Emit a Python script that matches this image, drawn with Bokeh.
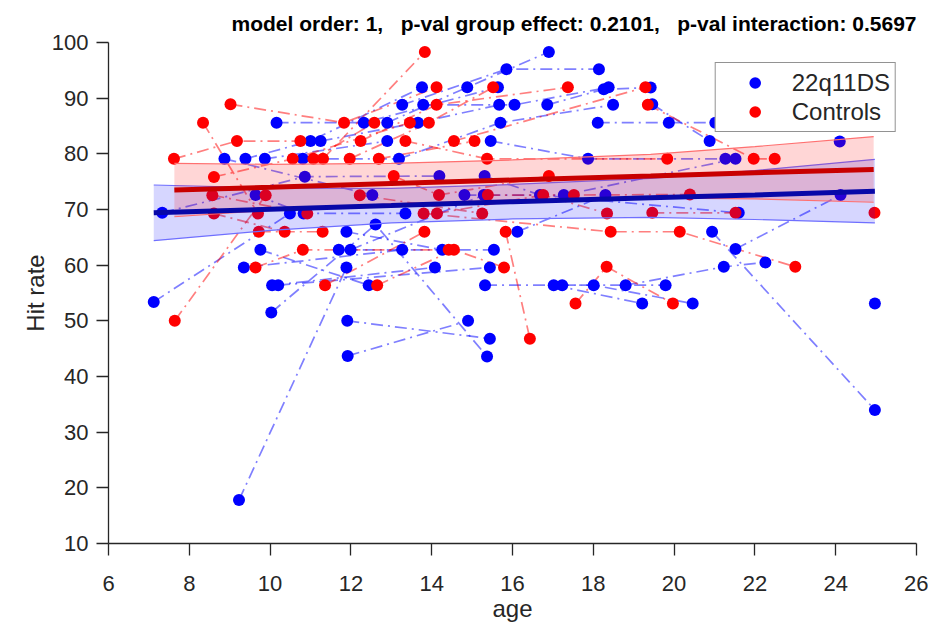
from collections import OrderedDict
from bokeh.plotting import figure
from bokeh.models import Legend, LegendItem, FixedTicker, Range1d
from bokeh.embed import file_html
from bokeh.resources import INLINE

# ---------------- data ----------------
TITLE = "model order: 1,\u00a0\u00a0\u00a0p-val group effect: 0.2101,\u00a0\u00a0\u00a0p-val interaction: 0.5697"
x_ticks = [6, 8, 10, 12, 14, 16, 18, 20, 22, 24, 26]
y_ticks = [10, 20, 30, 40, 50, 60, 70, 80, 90, 100]
group_names = ["22q11DS", "Controls"]

# 22q11DS: subject id, age, hit rate
q_subj = [1, 1,
          2, 2, 2,
          3, 3,
          4, 4, 4,
          5, 5,
          6, 6, 6,
          7, 7, 7,
          8, 8, 8,
          9, 9, 9,
          10, 10, 10,
          11, 11, 11,
          12, 12, 12, 12,
          13, 13, 13,
          14, 14,
          15, 15,
          16, 16,
          17, 17,
          18, 18,
          19, 19,
          20, 20,
          21, 21,
          22, 22,
          23, 23,
          24, 24, 24,
          25, 25, 25,
          26, 26, 26,
          27, 27,
          28, 28, 28,
          29, 29, 29,
          30, 30,
          31, 31, 31,
          32, 32,
          33, 33,
          34, 34, 34,
          35, 35,
          36, 36,
          37,
          38]
q_age = [7.12, 10.49,
         7.33, 10.86, 14.19,
         8.87, 12.53,
         9.39, 11.00, 13.76,
         9.87, 12.90,
         10.16, 12.32, 15.64,
         9.64, 10.83, 13.35,
         11.25, 13.66, 15.67,
         12.90, 14.88, 16.90,
         13.27, 15.85, 18.14,
         13.79, 16.05, 18.38,
         10.81, 13.19, 15.70, 18.49,
         10.03, 12.61, 15.37,
         11.89, 14.26,
         9.76, 12.44,
         11.70, 15.54,
         11.99, 15.29,
         9.35, 13.27,
         9.23, 11.89,
         10.05, 14.08,
         10.20, 15.44,
         11.91, 15.44,
         11.92, 14.90,
         15.46, 17.87, 21.27,
         15.31, 16.68, 21.60,
         14.81, 17.27, 21.52,
         16.12, 18.30,
         16.86, 18.26, 19.42,
         18.11, 19.87, 21.02,
         19.46, 20.88,
         15.32, 18.01, 20.46,
         17.02, 19.21,
         17.23, 19.79,
         18.80, 21.23, 22.26,
         20.94, 24.97,
         21.52, 24.12,
         24.10,
         24.97]
q_hit = [53.4, 69.3,
         69.4, 75.9, 76.0,
         79.1, 72.6,
         79.1, 82.3, 91.95,
         79.1, 82.3,
         85.6, 85.6, 91.95,
         72.6, 69.3, 69.3,
         82.3, 85.6, 88.8,
         85.6, 91.95, 98.3,
         88.8, 95.2, 95.2,
         88.8, 88.8, 91.95,
         79.1, 79.1, 85.6, 88.8,
         51.5, 67.3, 43.6,
         66.0, 62.75,
         62.75, 56.4,
         62.75, 62.75,
         62.75, 72.6,
         59.6, 62.75,
         17.8, 59.6,
         56.4, 59.6,
         56.4, 59.6,
         50.0, 46.8,
         43.7, 50.0,
         82.3, 79.1, 79.1,
         76.0, 72.6, 69.4,
         72.6, 72.6, 79.1,
         66.0, 72.6,
         88.8, 91.6, 91.9,
         85.6, 85.6, 85.6,
         88.9, 82.3,
         56.4, 56.4, 53.1,
         56.4, 53.1,
         56.4, 56.4,
         56.4, 59.7, 60.5,
         66.0, 34.0,
         62.9, 72.6,
         82.2,
         53.1]

# Controls: subject id, age, hit rate
c_subj = [1, 1, 1,
          2, 2,
          3, 3, 3,
          4, 4,
          5, 5, 5,
          6, 6,
          7, 7,
          8, 8,
          9, 9, 9,
          10, 10,
          11, 11,
          12, 12, 12,
          13, 13, 13,
          14, 14,
          15, 15, 15,
          16, 16,
          17, 17, 17,
          18, 18,
          19, 19, 19,
          20, 20, 20, 20,
          21, 21, 21,
          22, 22,
          23, 23, 23,
          24, 24,
          25, 25, 25,
          26, 26, 26,
          27, 27,
          28]
c_age = [9.02, 11.83, 14.12,
         8.34, 9.70,
         7.62, 9.18, 10.75,
         7.64, 9.89,
         8.61, 10.56, 13.46,
         8.57, 10.92,
         8.61, 10.36,
         9.72, 11.30,
         9.64, 10.81, 14.42,
         11.31, 13.83,
         11.07, 12.58,
         11.97, 13.93, 15.52,
         12.24, 14.12, 17.37,
         12.69, 15.06,
         13.06, 14.18, 16.90,
         12.22, 15.25,
         13.35, 15.37, 19.83,
         14.55, 19.29,
         15.39, 17.52, 20.39,
         13.80, 18.43, 20.14, 23.00,
         14.13, 16.76, 18.34,
         15.83, 16.43,
         12.65, 14.55, 15.79,
         11.36, 13.82,
         17.56, 18.33, 19.97,
         19.35, 21.97, 22.49,
         19.46, 21.52,
         24.96]
c_hit = [88.9, 85.6, 91.95,
         85.6, 69.26,
         79.1, 82.3, 82.3,
         50.0, 72.57,
         75.85, 79.1, 85.6,
         72.57, 69.26,
         69.26, 66.0,
         66.0, 66.0,
         59.6, 62.75, 62.75,
         79.1, 98.3,
         79.1, 85.6,
         79.1, 85.6, 91.95,
         82.3, 88.8, 91.95,
         79.1, 82.3,
         76.0, 72.6, 76.0,
         72.57, 69.3,
         82.3, 79.1, 79.1,
         82.3, 91.95,
         72.6, 72.6, 72.7,
         69.3, 66.0, 66.0, 59.7,
         69.3, 72.6, 69.3,
         66.0, 46.8,
         56.4, 62.75, 59.6,
         56.4, 66.0,
         53.1, 59.7, 53.1,
         88.8, 79.1, 79.1,
         69.4, 69.4,
         69.4]

# fitted model (mean line and confidence band) per group
fit_q_age = [7.12, 10.0, 13.0, 16.0, 19.42, 22.0, 24.97]
fit_q_mean = [69.4, 70.05, 70.7, 71.4, 72.1, 72.6, 73.3]
fit_q_lo = [64.4, 66.25, 67.6, 68.3, 68.6, 68.2, 67.6]
fit_q_hi = [74.4, 73.85, 73.8, 74.5, 75.6, 77.0, 79.0]

fit_c_age = [7.63, 10.0, 13.0, 16.0, 19.42, 22.0, 24.94]
fit_c_mean = [73.5, 74.0, 74.65, 75.3, 76.0, 76.6, 77.2]
fit_c_lo = [68.7, 69.9, 71.0, 71.7, 72.1, 71.9, 71.3]
fit_c_hi = [78.3, 78.1, 78.3, 78.9, 79.9, 81.3, 83.1]

# ---------------- styles ----------------
BLUE = "#0000ff"
RED = "#ff0000"
AX = "#262626"
FONT = "Liberation Sans"


def trajectories(subj, age, hit):
    groups = OrderedDict()
    for s, a, h in zip(subj, age, hit):
        groups.setdefault(s, []).append((a, h))
    xs, ys = [], []
    for pts in groups.values():
        if len(pts) < 2:
            continue
        pts = sorted(pts)
        xs.append([a for a, _ in pts])
        ys.append([h for _, h in pts])
    return xs, ys


p = figure(width=928, height=627,
           x_range=Range1d(6, 26), y_range=Range1d(10, 100),
           output_backend="svg", toolbar_location=None,
           min_border_left=108, min_border_right=12,
           min_border_top=42, min_border_bottom=84,
           title=TITLE, background_fill_color="white",
           border_fill_color="white")
p.outline_line_color = None
p.grid.visible = False

p.title.text_font = FONT
p.title.text_font_size = "21px"
p.title.text_font_style = "bold"
p.title.text_color = "black"
p.title.align = "right"
p.title.standoff = 15

# trajectories (dash-dot)
qx, qy = trajectories(q_subj, q_age, q_hit)
cx, cy = trajectories(c_subj, c_age, c_hit)
p.multi_line(qx, qy, line_color=BLUE, line_alpha=0.5, line_width=1.7,
             line_dash="12 5 2 5")
p.multi_line(cx, cy, line_color=RED, line_alpha=0.5, line_width=1.7,
             line_dash="12 5 2 5")

# points
rq = p.scatter(q_age, q_hit, size=12, fill_color=BLUE, line_color=BLUE, line_width=0)
rc = p.scatter(c_age, c_hit, size=12, fill_color=RED, line_color=RED, line_width=0)

# confidence bands
p.varea(x=fit_q_age, y1=fit_q_lo, y2=fit_q_hi, fill_color=BLUE, fill_alpha=0.16)
p.line(fit_q_age, fit_q_lo, line_color="#6f6fff", line_width=1.2)
p.line(fit_q_age, fit_q_hi, line_color="#6f6fff", line_width=1.2)
p.varea(x=fit_c_age, y1=fit_c_lo, y2=fit_c_hi, fill_color=RED, fill_alpha=0.16)
p.line(fit_c_age, fit_c_lo, line_color="#ff7070", line_width=1.2)
p.line(fit_c_age, fit_c_hi, line_color="#ff7070", line_width=1.2)

# mean fits
p.line(fit_q_age, fit_q_mean, line_color="#0808a8", line_width=5)
p.line(fit_c_age, fit_c_mean, line_color="#c80000", line_width=5)

# axes
for ax in (p.xaxis, p.yaxis):
    ax.axis_line_color = AX
    ax.axis_line_width = 1.3
    ax.major_tick_line_color = AX
    ax.major_tick_line_width = 1.3
    ax.major_tick_out = 12
    ax.major_tick_in = 0
    ax.minor_tick_line_color = None
    ax.major_label_text_font = FONT
    ax.major_label_text_font_size = "22px"
    ax.major_label_text_color = AX
    ax.axis_label_text_font = FONT
    ax.axis_label_text_font_size = "24px"
    ax.axis_label_text_font_style = "normal"
    ax.axis_label_text_color = AX

p.xaxis.ticker = FixedTicker(ticks=x_ticks)
p.yaxis.ticker = FixedTicker(ticks=y_ticks)
p.xaxis.axis_label = "age"
p.yaxis.axis_label = "Hit rate"
p.xaxis.major_label_standoff = 20
p.yaxis.major_label_standoff = 8
p.xaxis.axis_label_standoff = 1
p.yaxis.axis_label_standoff = 0

legend = Legend(items=[LegendItem(label=group_names[0], renderers=[rq]),
                       LegendItem(label=group_names[1], renderers=[rc])],
                location="top_right")
legend.margin = 20
legend.padding = 5
legend.spacing = 0
legend.glyph_width = 68
legend.glyph_height = 29
legend.label_standoff = 3
legend.label_text_font = FONT
legend.label_text_font_size = "24px"
legend.label_text_color = AX
legend.border_line_color = AX
legend.border_line_width = 1.2
legend.background_fill_color = "white"
legend.background_fill_alpha = 1.0
p.add_layout(legend, "center")

open("out.html", "w").write(file_html(p, INLINE))
